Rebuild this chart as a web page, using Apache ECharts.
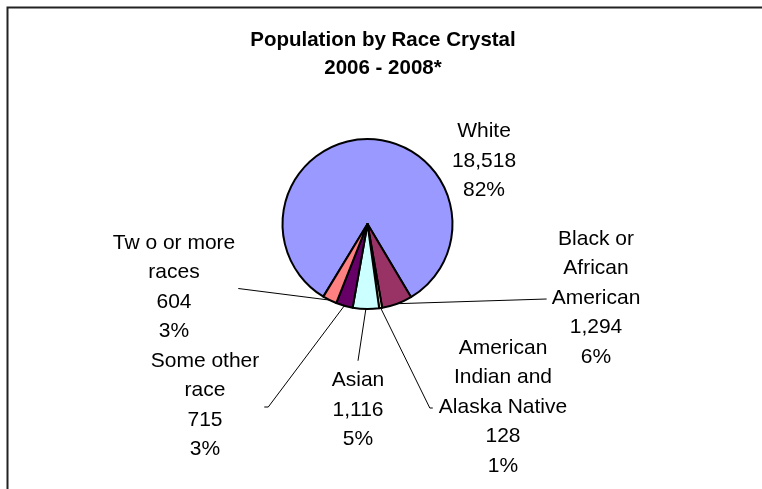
<!DOCTYPE html>
<html>
<head>
<meta charset="utf-8">
<style>html,body{margin:0;padding:0;background:#fff;}#c{width:762px;height:489px;}</style>
<script src="https://cdn.jsdelivr.net/npm/echarts@6/dist/echarts.min.js"></script>
</head>
<body>
<div id="c"></div>
<script>
// ---- data ----
const categories = ['White', 'Black or\nAfrican\nAmerican', 'American\nIndian and\nAlaska Native', 'Asian', 'Some other\nrace', 'Tw o or more\nraces'];
const values = [18518, 1294, 128, 1116, 715, 604];
const percentLabels = [82, 6, 1, 5, 3, 3];
const titleLines = ['Population by Race Crystal', '2006 - 2008*'];

// ---- styling / layout (not data) ----
const colors = ['#9999FF', '#993366', '#FFFFCC', '#CCFFFF', '#660066', '#FF8080'];
const center = [367.5, 224];
const radius = 85;
const labelCenters = [[484, 161], [596, 298], [503, 407], [358, 410], [205, 405], [174, 287]];

function fmt(n) { return String(n).replace(/\B(?=(\d{3})+(?!\d))/g, ','); }

const chart = echarts.init(document.getElementById('c'), null, { renderer: 'canvas' });
const total = values.reduce((a, b) => a + b, 0);
const startAngle = 238.7;

// mid-angle point on the slice edge, from the pie's own geometry settings
function edgePoint(i) {
  let acc = 0;
  for (let k = 0; k < i; k++) acc += values[k];
  const mid = (acc + values[i] / 2) / total * 360;
  const a = (startAngle - mid) * Math.PI / 180;
  return [center[0] + radius * Math.cos(a), center[1] - radius * Math.sin(a)];
}

chart.setOption({
  animation: false,
  backgroundColor: '#fff',
  title: {
    text: titleLines.join('\n'),
    left: 378,
    top: 21,
    textAlign: 'center',
    textStyle: { fontFamily: 'Liberation Sans, Arial, sans-serif', fontSize: 20.5, fontWeight: 'bold', color: '#000', lineHeight: 28.5 }
  },
  graphic: [{
    type: 'rect', silent: true, z: -1,
    shape: { x: 7.5, y: 7.5, width: 800, height: 600 },
    style: { fill: 'none', stroke: '#222', lineWidth: 2 }
  }],
  series: [{
    type: 'pie',
    center: center,
    radius: radius,
    startAngle: startAngle,
    clockwise: true,
    avoidLabelOverlap: false,
    itemStyle: { borderColor: '#000', borderWidth: 2 },
    label: {
      show: true,
      position: 'outside',
      color: '#000',
      fontFamily: 'Liberation Sans, Arial, sans-serif',
      fontSize: 21,
      lineHeight: 29.5,
      align: 'center',
      formatter: function (p) {
        return p.name + '\n' + fmt(p.value) + '\n' + percentLabels[p.dataIndex] + '%';
      }
    },
    labelLine: { show: true, smooth: false, length: 10, length2: 10, lineStyle: { color: '#000', width: 1 } },
    emphasis: { disabled: true },
    labelLayout: function (p) {
      const i = p.dataIndex;
      const x = labelCenters[i][0], y = labelCenters[i][1];
      const w = p.labelRect.width, h = p.labelRect.height;
      const L = x - w / 2, R = x + w / 2, T = y - h / 2;
      const s = edgePoint(i);
      let pts = null;
      if (i === 1) pts = [s, [L - 5, y + 1], [L - 5, y + 1]];
      else if (i === 2) pts = [s, [L - 9, y + 1], [L - 6, y + 1]];
      else if (i === 3) pts = [s, [x, T - 5], [x, T - 5]];
      else if (i === 4) pts = [s, [R + 9, y + 2], [R + 5, y + 2]];
      else if (i === 5) pts = [s, [R + 3, y + 1.5], [R + 3, y + 1.5]];
      const out = { x: x, y: y, align: 'center', verticalAlign: 'middle' };
      if (pts) out.labelLinePoints = pts;
      return out;
    },
    data: categories.map((c, i) => ({
      name: c,
      value: values[i],
      itemStyle: { color: colors[i] },
      labelLine: { show: i !== 0 }
    }))
  }]
});
</script>
</body>
</html>
